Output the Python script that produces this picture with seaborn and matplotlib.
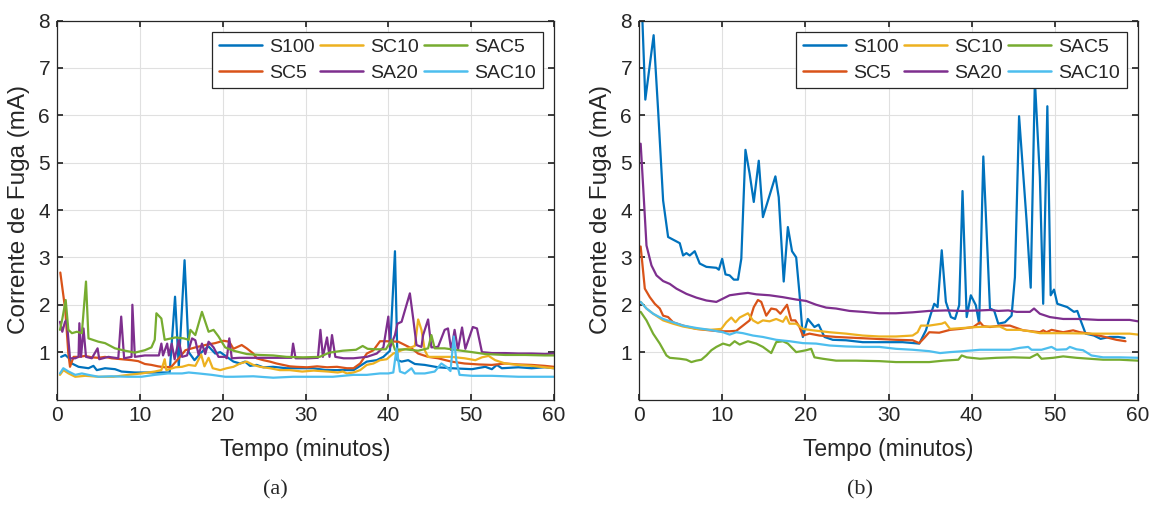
import matplotlib
matplotlib.use("Agg")
import matplotlib.pyplot as plt
import seaborn as sns
import pandas as pd

# ---------------- panel (a) ----------------
a_s100_t = [0.5, 1.0, 1.45, 1.8, 2.6, 3.8, 4.4, 4.8, 5.8, 7.0, 7.8, 9.4, 11.0, 13.0, 13.6, 14.25, 14.7, 15.4, 15.9,
            16.6, 17.2, 17.7, 18.3, 19.1, 19.7, 20.5, 21.3, 22.1, 22.7, 23.3, 24.1, 24.9, 26.1, 27.7, 29.3, 30.9,
            32.5, 34.1, 35.8, 36.6, 37.4, 38.6, 39.4, 40.2, 40.8, 41.1, 41.6, 42.4, 43.2, 44.4, 46.0, 47.6, 50.1,
            51.7, 52.5, 53.1, 53.7, 55.7, 57.3, 58.9, 60.0]
a_s100_v = [0.90, 0.94, 0.87, 0.76, 0.69, 0.66, 0.71, 0.62, 0.66, 0.64, 0.59, 0.57, 0.57, 0.57, 0.57, 2.17, 0.69, 2.94, 1.0,
            0.83, 0.95, 1.04, 1.12, 0.97, 1.0, 0.9, 0.8, 0.76, 0.8, 0.71, 0.73, 0.68, 0.69, 0.66, 0.66, 0.66,
            0.62, 0.62, 0.62, 0.71, 0.8, 0.83, 0.9, 1.03, 3.13, 0.83, 0.8, 0.83, 0.75, 0.73, 0.68, 0.66, 0.64,
            0.69, 0.64, 0.73, 0.66, 0.68, 0.66, 0.68, 0.66]

a_sc5_t = [0.4, 1.0, 1.37, 1.57, 2.0, 2.6, 3.4, 4.2, 5.0, 5.8, 6.6, 7.8, 9.0, 9.8, 10.6, 11.4, 12.2, 13.0, 13.8, 14.7,
           15.5, 16.7, 17.9, 19.1, 20.1, 20.8, 21.3, 22.3, 22.9, 23.7, 24.1, 24.9, 25.7, 26.5, 27.3, 28.1, 28.9,
           30.2, 31.4, 32.6, 33.8, 35.0, 35.8, 36.6, 37.4, 38.2, 39.0, 39.8, 41.2, 42.0, 42.8, 43.6, 44.8, 46.0,
           47.6, 49.2, 50.9, 52.5, 54.1, 55.7, 57.3, 58.9, 60.0]
a_sc5_v = [2.68, 1.89, 0.97, 0.69, 0.9, 0.9, 0.92, 0.89, 0.88, 0.9, 0.87, 0.85, 0.83, 0.81, 0.75, 0.73, 0.7, 0.68, 0.69, 0.87,
           1.04, 1.1, 1.15, 1.19, 1.24, 1.22, 1.07, 1.15, 1.08, 0.97, 0.87, 0.83, 0.8, 0.76, 0.73, 0.7, 0.69,
           0.68, 0.7, 0.68, 0.69, 0.66, 0.66, 0.76, 0.97, 1.04, 1.23, 1.23, 1.22, 1.15, 1.08, 0.97, 0.9, 0.87,
           0.8, 0.76, 0.74, 0.73, 0.76, 0.74, 0.73, 0.71, 0.69]

a_sc10_t = [0.36, 0.77, 1.4, 2.2, 3.4, 5.0, 6.8, 8.6, 10.2, 11.8, 12.6, 13.0, 13.2, 14.3, 15.1, 15.9, 16.7, 17.4, 17.8,
            18.3, 18.8, 19.7, 20.5, 21.3, 22.1, 22.9, 23.7, 24.5, 25.7, 26.9, 28.1, 29.6, 31.0, 32.7, 33.9, 34.5,
            35.0, 35.8, 36.6, 37.4, 38.2, 39.0, 39.8, 40.6, 41.6, 42.4, 43.2, 43.6, 44.0, 44.4, 44.8, 46.0, 47.6,
            49.2, 50.5, 51.3, 52.1, 52.9, 54.1, 55.7, 57.3, 58.9, 60.0]
a_sc10_v = [0.52, 0.62, 0.55, 0.48, 0.5, 0.48, 0.48, 0.52, 0.55, 0.59, 0.62, 0.85, 0.62, 0.68, 0.69, 0.73, 0.71, 0.95, 0.7,
            0.88, 0.66, 0.62, 0.66, 0.69, 0.76, 0.8, 0.73, 0.69, 0.66, 0.62, 0.62, 0.59, 0.61, 0.59, 0.57, 0.59,
            0.55, 0.57, 0.62, 0.73, 0.76, 0.83, 0.85, 0.97, 1.04, 1.08, 1.13, 1.69, 1.47, 1.04, 0.9, 0.9, 0.9,
            0.87, 0.83, 0.89, 0.92, 0.83, 0.76, 0.73, 0.71, 0.68, 0.66]

a_sa20_t = [0.36, 0.64, 0.97, 1.17, 1.57, 2.2, 2.6, 2.7, 2.9, 3.2, 3.5, 4.2, 4.9, 5.1, 6.2, 7.4, 7.75, 8.1, 9.0, 9.1,
            9.4, 10.6, 11.8, 12.3, 12.6, 12.8, 13.3, 13.5, 13.85, 14.2, 14.7, 15.1, 15.7, 16.3, 16.7, 17.1, 17.5,
            17.9, 18.3, 18.9, 19.5, 20.3, 20.5, 20.8, 21.1, 22.0, 23.7, 26.0, 28.3, 28.5, 28.8, 30.3, 31.5, 31.8,
            32.1, 32.6, 32.9, 33.2, 33.6, 34.6, 35.8, 37.4, 38.6, 39.4, 40.0, 40.2, 40.8, 41.1, 41.6, 42.6, 43.0,
            43.4, 44.0, 44.2, 44.8, 45.2, 46.0, 46.8, 47.2, 47.6, 48.0, 48.4, 48.9, 49.3, 50.2, 50.7, 51.3, 52.5,
            54.1, 55.7, 57.3, 58.9, 60.0]
a_sa20_v = [1.64, 1.43, 1.64, 1.68, 0.87, 0.87, 0.9, 1.61, 0.9, 1.5, 0.9, 0.87, 1.08, 0.85, 0.9, 0.87, 1.75, 0.87, 0.9, 2.0,
            0.9, 0.93, 0.93, 0.93, 1.18, 0.93, 1.18, 0.93, 1.18, 0.85, 1.25, 0.9, 0.93, 1.29, 1.25, 0.94, 1.18,
            0.96, 1.22, 1.1, 0.9, 0.9, 0.87, 1.29, 0.87, 0.88, 0.88, 0.88, 0.88, 1.18, 0.87, 0.87, 0.88, 1.47,
            0.9, 1.31, 0.9, 1.36, 0.9, 0.87, 0.87, 0.9, 0.97, 1.1, 1.75, 1.1, 1.36, 1.6, 1.64, 2.24, 1.71,
            1.15, 1.11, 1.36, 1.69, 1.1, 1.11, 1.47, 1.5, 1.04, 1.47, 1.05, 1.52, 1.07, 1.53, 1.5, 1.0, 0.98,
            0.98, 0.97, 0.97, 0.96, 0.97]

a_sac5_t = [0.36, 0.64, 1.05, 1.37, 1.8, 2.4, 3.0, 3.5, 3.8, 5.0, 5.8, 7.0, 8.2, 9.4, 10.6, 11.4, 11.8, 12.0, 12.6, 13.0,
            14.3, 15.3, 15.9, 16.1, 16.7, 17.5, 18.3, 18.9, 19.5, 20.3, 21.3, 22.9, 24.5, 26.1, 27.7, 29.7, 31.7,
            32.9, 34.5, 36.1, 36.9, 37.5, 38.5, 39.7, 40.4, 40.8, 42.0, 43.6, 44.8, 45.2, 45.6, 46.8, 48.4, 50.1,
            51.7, 54.1, 56.5, 58.9, 60.0]
a_sac5_v = [1.47, 1.7, 2.1, 1.47, 1.4, 1.43, 1.4, 2.49, 1.29, 1.22, 1.19, 1.08, 1.03, 0.99, 1.04, 1.1, 1.26, 1.82, 1.71, 1.26,
            1.31, 1.29, 1.26, 1.47, 1.36, 1.85, 1.43, 1.47, 1.33, 1.1, 1.03, 0.96, 0.94, 0.93, 0.9, 0.89, 0.9,
            0.99, 1.03, 1.05, 1.13, 1.07, 1.06, 1.06, 1.26, 1.05, 1.06, 1.03, 1.08, 1.36, 1.08, 1.08, 1.04, 1.0,
            0.96, 0.94, 0.94, 0.93, 0.93]

a_sac10_t = [0.36, 0.76, 1.4, 2.2, 3.0, 3.8, 5.0, 6.6, 8.6, 10.2, 11.8, 13.4, 15.1, 15.9, 17.1, 18.7, 20.3, 21.3, 23.7,
             26.1, 28.5, 30.9, 33.3, 35.8, 37.4, 39.0, 40.0, 40.6, 41.0, 41.4, 42.0, 42.8, 43.2, 44.4, 45.6, 46.4,
             47.0, 47.5, 47.9, 48.2, 48.6, 50.1, 52.5, 55.7, 58.0, 60.0]
a_sac10_v = [0.55, 0.66, 0.59, 0.52, 0.55, 0.52, 0.48, 0.49, 0.48, 0.48, 0.52, 0.55, 0.55, 0.57, 0.55, 0.52, 0.48, 0.48, 0.49,
             0.46, 0.48, 0.48, 0.48, 0.52, 0.52, 0.55, 0.55, 0.57, 1.08, 0.59, 0.55, 0.66, 0.55, 0.55, 0.59, 0.76,
             0.69, 0.6, 1.33, 0.83, 0.52, 0.5, 0.5, 0.48, 0.48, 0.48]

# ---------------- panel (b) ----------------
b_s100_t = [0.2, 0.76, 1.76, 2.3, 2.9, 3.5, 4.9, 5.3, 5.7, 6.1, 6.7, 7.3, 8.1, 9.3, 9.6, 10.0, 10.4, 10.9, 11.4, 11.9,
            12.3, 12.8, 13.3, 13.8, 14.4, 14.9, 16.4, 16.8, 17.4, 17.9, 18.4, 18.9, 19.3, 19.7, 20.3, 21.1, 21.6,
            22.3, 23.3, 24.9, 26.9, 29.3, 31.7, 33.7, 34.5, 35.1, 35.5, 35.9, 36.4, 36.9, 37.5, 38.0, 38.5, 38.9,
            39.4, 39.9, 40.5, 40.9, 41.4, 42.2, 42.7, 43.2, 44.0, 44.8, 45.2, 45.7, 46.6, 47.1, 47.6, 48.2, 48.6,
            49.1, 49.5, 49.9, 50.3, 51.5, 52.3, 52.7, 53.1, 53.7, 54.7, 55.5, 56.6, 57.6, 58.4]
b_s100_v = [9.0, 6.33, 7.69, 6.1, 4.2, 3.43, 3.3, 3.04, 3.09, 3.04, 3.13, 2.87, 2.8, 2.78, 2.74, 2.97, 2.64, 2.62, 2.53, 2.53,
            2.97, 5.27, 4.77, 4.17, 5.04, 3.85, 4.71, 4.27, 2.49, 3.64, 3.13, 3.0, 2.23, 1.32, 1.7, 1.53, 1.58,
            1.32, 1.26, 1.25, 1.21, 1.21, 1.21, 1.18, 1.46, 1.81, 2.02, 1.95, 3.15, 2.06, 1.74, 1.7, 1.99, 4.4,
            1.74, 2.2, 1.99, 1.6, 5.13, 1.92, 1.88, 1.6, 1.63, 1.77, 2.58, 5.98, 3.78, 2.36, 6.74, 4.7, 2.02,
            6.19, 2.2, 2.32, 2.02, 1.95, 1.85, 1.87, 1.67, 1.39, 1.35, 1.28, 1.32, 1.32, 1.3]

b_sc5_t = [0.2, 0.7, 1.3, 1.9, 2.5, 2.9, 3.5, 4.1, 5.3, 6.9, 8.5, 9.7, 10.9, 11.7, 12.5, 13.3, 13.8, 14.3, 14.7, 15.3,
           15.9, 16.5, 17.0, 17.8, 18.3, 18.8, 19.3, 19.7, 20.5, 21.7, 23.7, 26.1, 28.5, 30.9, 32.9, 33.7, 34.3,
           34.9, 36.1, 37.4, 38.6, 40.2, 41.0, 41.4, 42.2, 43.4, 44.6, 46.2, 48.2, 48.6, 49.0, 49.6, 51.0, 52.2,
           53.0, 54.2, 55.8, 57.4, 58.5]
b_sc5_v = [3.23, 2.34, 2.16, 2.02, 1.92, 1.77, 1.74, 1.63, 1.56, 1.49, 1.46, 1.44, 1.44, 1.45, 1.56, 1.67, 1.95, 2.1, 2.06, 1.77,
           1.92, 1.9, 1.81, 2.0, 1.67, 1.67, 1.53, 1.35, 1.39, 1.35, 1.32, 1.3, 1.28, 1.26, 1.25, 1.19, 1.3,
           1.42, 1.41, 1.47, 1.49, 1.53, 1.63, 1.55, 1.53, 1.56, 1.56, 1.46, 1.42, 1.46, 1.42, 1.47, 1.42, 1.46,
           1.42, 1.39, 1.33, 1.26, 1.23]

b_sc10_t = [0.2, 0.9, 1.7, 2.9, 4.1, 5.3, 6.9, 8.5, 9.9, 10.5, 11.1, 11.6, 12.1, 13.1, 13.7, 14.3, 14.9, 15.7, 16.5,
            17.3, 17.7, 18.1, 18.9, 19.7, 20.9, 22.9, 24.9, 26.9, 28.9, 30.9, 32.9, 33.5, 33.9, 34.9, 36.4, 36.8,
            37.4, 39.0, 40.6, 42.2, 43.4, 44.2, 45.8, 47.0, 48.2, 51.0, 55.0, 57.0, 59.0, 60.0]
b_sc10_v = [2.06, 1.92, 1.81, 1.67, 1.6, 1.54, 1.49, 1.47, 1.49, 1.63, 1.73, 1.63, 1.73, 1.82, 1.67, 1.61, 1.67, 1.65, 1.7,
            1.64, 1.75, 1.6, 1.6, 1.49, 1.46, 1.42, 1.39, 1.35, 1.33, 1.33, 1.35, 1.42, 1.56, 1.56, 1.6, 1.63,
            1.49, 1.51, 1.53, 1.54, 1.54, 1.47, 1.47, 1.44, 1.4, 1.4, 1.39, 1.39, 1.39, 1.37]

b_sa20_t = [0.2, 0.5, 0.9, 1.5, 2.1, 2.9, 3.7, 4.5, 5.7, 6.9, 8.1, 9.3, 10.1, 10.9, 12.1, 13.1, 14.1, 15.7, 17.3,
            18.9, 20.1, 21.3, 22.5, 23.7, 25.3, 26.9, 28.9, 30.9, 32.9, 34.9, 36.9, 38.9, 41.0, 42.2, 43.2, 44.4,
            45.4, 47.0, 47.5, 48.2, 49.4, 51.0, 53.0, 55.2, 57.2, 59.0, 60.0]
b_sa20_v = [5.4, 4.49, 3.25, 2.83, 2.62, 2.5, 2.44, 2.34, 2.23, 2.15, 2.09, 2.06, 2.13, 2.2, 2.23, 2.25, 2.22, 2.2, 2.16,
            2.11, 2.08, 2.0, 1.94, 1.92, 1.87, 1.85, 1.82, 1.82, 1.84, 1.87, 1.88, 1.87, 1.88, 1.89, 1.87, 1.88,
            1.85, 1.85, 1.92, 1.81, 1.74, 1.7, 1.7, 1.68, 1.68, 1.68, 1.65]

b_sac5_t = [0.2, 0.9, 1.7, 2.5, 3.3, 3.7, 4.9, 5.7, 6.3, 6.9, 7.5, 8.1, 8.7, 9.3, 10.1, 10.9, 11.5, 12.1, 13.1, 14.1,
            14.9, 15.9, 16.5, 17.3, 17.9, 18.9, 20.1, 20.7, 21.1, 22.1, 23.7, 26.1, 28.9, 30.9, 32.9, 34.9, 36.6,
            38.4, 38.8, 39.4, 41.0, 43.0, 45.0, 47.0, 47.9, 48.4, 49.8, 51.0, 52.6, 54.2, 55.8, 57.8, 60.0]
b_sac5_v = [1.85, 1.67, 1.39, 1.18, 0.93, 0.88, 0.86, 0.84, 0.79, 0.82, 0.84, 0.93, 1.04, 1.11, 1.18, 1.14, 1.23, 1.16, 1.23, 1.18,
            1.11, 0.98, 1.21, 1.23, 1.18, 1.0, 1.04, 1.07, 0.89, 0.86, 0.82, 0.82, 0.81, 0.79, 0.79, 0.79, 0.82,
            0.84, 0.93, 0.89, 0.86, 0.88, 0.89, 0.88, 0.96, 0.86, 0.88, 0.91, 0.88, 0.86, 0.84, 0.84, 0.82]

b_sac10_t = [0.2, 0.9, 1.7, 2.9, 4.1, 5.3, 6.9, 8.5, 10.1, 10.9, 11.7, 12.5, 13.7, 14.9, 16.5, 18.1, 19.7, 21.3, 22.9,
             24.9, 26.9, 28.9, 30.9, 32.9, 34.9, 36.2, 37.4, 39.0, 41.0, 43.0, 44.6, 45.8, 46.8, 47.2, 48.4, 49.6,
             50.2, 51.4, 51.8, 52.6, 53.4, 54.4, 55.8, 57.8, 60.0]
b_sac10_v = [2.06, 1.92, 1.81, 1.7, 1.63, 1.56, 1.51, 1.47, 1.42, 1.37, 1.42, 1.4, 1.35, 1.32, 1.26, 1.23, 1.19, 1.18, 1.14,
             1.12, 1.11, 1.11, 1.07, 1.05, 1.02, 0.98, 1.0, 1.02, 1.05, 1.05, 1.05, 1.09, 1.11, 1.05, 1.05, 1.11,
             1.05, 1.06, 1.11, 1.06, 1.04, 0.93, 0.89, 0.89, 0.88]

names = ["S100", "SC5", "SC10", "SA20", "SAC5", "SAC10"]
colors = ["#0072BD", "#D95319", "#EDB120", "#7E2F8E", "#77AC30", "#4DBEEE"]

panel_a = [(a_s100_t, a_s100_v), (a_sc5_t, a_sc5_v), (a_sc10_t, a_sc10_v),
           (a_sa20_t, a_sa20_v), (a_sac5_t, a_sac5_v), (a_sac10_t, a_sac10_v)]
panel_b = [(b_s100_t, b_s100_v), (b_sc5_t, b_sc5_v), (b_sc10_t, b_sc10_v),
           (b_sa20_t, b_sa20_v), (b_sac5_t, b_sac5_v), (b_sac10_t, b_sac10_v)]

sns.set_theme(style="whitegrid")
plt.rcParams['font.family'] = ['Liberation Sans', 'DejaVu Sans']

fig = plt.figure(figsize=(11.53, 5.28), dpi=100)
ax_a = fig.add_axes([57 / 1153, 128.5 / 528, 497 / 1153, 379 / 528])
ax_b = fig.add_axes([639 / 1153, 128.5 / 528, 499 / 1153, 379 / 528])

for ax, panel in [(ax_a, panel_a), (ax_b, panel_b)]:
    for (t, v), name, c in zip(panel, names, colors):
        df = pd.DataFrame({"t": t, "v": v})
        sns.lineplot(data=df, x="t", y="v", ax=ax, color=c, label=name, linewidth=1.6)
    ax.set_xlim(0, 60)
    ax.set_ylim(0, 8)
    ax.set_xticks(range(0, 61, 10))
    ax.set_yticks(range(1, 9))
    ax.set_xlabel("Tempo (minutos)", fontsize=16.5, color="#262626", labelpad=9)
    ax.set_ylabel("Corrente de Fuga (mA)", fontsize=17.5, color="#262626", labelpad=6)
    ax.tick_params(axis="both", labelsize=15, colors="#262626", direction="in",
                   length=4, top=True, right=True, bottom=True, left=True, pad=5)
    ax.grid(True, color="#e0e0e0", linewidth=0.8)
    ax.set_facecolor("white")
    for sp in ax.spines.values():
        sp.set_visible(True)
        sp.set_color("#262626")
        sp.set_linewidth(0.9)
    leg = ax.legend(loc="upper right", bbox_to_anchor=(0.977, 0.97), ncol=3, fontsize=14,
                    frameon=True, fancybox=False, handlelength=2.2, handletextpad=0.35,
                    columnspacing=0.3, labelspacing=0.4, borderpad=0.35, borderaxespad=0)
    leg.get_frame().set_edgecolor("#262626")
    leg.get_frame().set_linewidth(0.9)
    leg.get_frame().set_alpha(1)
    for line in leg.get_lines():
        line.set_linewidth(1.8)

fig.text(275 / 1153, 1 - 490 / 528, "(a)", ha="center", va="center", fontsize=16,
         family=["Liberation Serif", "DejaVu Serif"])
fig.text(860 / 1153, 1 - 490 / 528, "(b)", ha="center", va="center", fontsize=16,
         family=["Liberation Serif", "DejaVu Serif"])

fig.savefig("out.png", dpi=100)
